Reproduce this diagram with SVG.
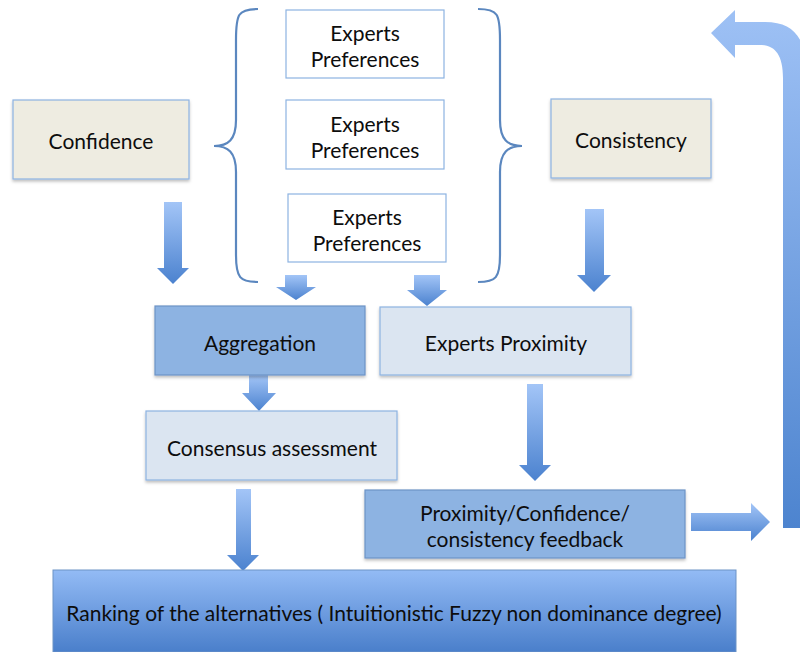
<svg xmlns="http://www.w3.org/2000/svg" width="800" height="652" viewBox="0 0 800 652">
<defs>
<linearGradient id="ag" x1="0" y1="0" x2="0" y2="1"><stop offset="0" stop-color="#a3c5f7"/><stop offset="1" stop-color="#4b82cf"/></linearGradient>
<linearGradient id="rg" x1="0" y1="0" x2="0" y2="1"><stop offset="0" stop-color="#93bbf5"/><stop offset="1" stop-color="#4a7fcb"/></linearGradient>
<linearGradient id="cg" x1="0" y1="0" x2="0" y2="1"><stop offset="0" stop-color="#9ec1f5"/><stop offset="1" stop-color="#4d84cf"/></linearGradient>
<filter id="sh" x="-10%" y="-10%" width="120%" height="130%"><feDropShadow dx="0" dy="2" stdDeviation="1.5" flood-color="#000" flood-opacity="0.25"/></filter>
<style>
text{font-family:"Lato","Open Sans","Liberation Sans",sans-serif;font-size:21px;fill:#0d0d0d;text-anchor:middle}
.beige{fill:#eeece1;stroke:#8db3e2;stroke-width:1.2}
.white{fill:#fff;stroke:#8db3e2;stroke-width:1.2}
.mid{fill:#8db3e2;stroke:#6d93c6;stroke-width:1.2}
.light{fill:#dbe5f1;stroke:#8db3e2;stroke-width:1.2}
.brace{fill:none;stroke:#5b87bf;stroke-width:2.2}
.arr{fill:url(#ag)}
</style>
</defs>
<g id="connectors">
<path class="brace" d="M258,9 C238,9 236,14 236,40 L236,120 C236,140 228,146 214,146 C228,146 236,152 236,172 L236,255 C236,278 240,282 258,282"/>
<path class="brace" d="M478,9 C498,9 500,14 500,40 L500,120 C500,140 508,146 522,146 C508,146 500,152 500,172 L500,255 C500,278 496,282 478,282"/>
<path class="arr" d="M164,202 H182 V268 H189 L173,284 L157,268 H164 Z"/>
<path class="arr" d="M285,275 H307 V287 H316 L296,300 L276,287 H285 Z"/>
<path class="arr" d="M414,275 H440 V290 H447 L427,306 L407,290 H414 Z"/>
<path class="arr" d="M585,209 H604 V275 H611 L594,292 L577,275 H585 Z"/>
<path class="arr" d="M249,375 H268 V393 H276 L259,411 L242,393 H249 Z"/>
<path class="arr" d="M236,489 H251 V555 H259 L243,571 L227,555 H236 Z"/>
<path class="arr" d="M527,384 H543 V465 H551 L535,481 L519,465 H527 Z"/>
<path class="arr" d="M691,513 H751 V503 L770,522 L751,541 V531 H691 Z"/>
<path fill="url(#cg)" d="M783,528 V78 C783,55 775,45 760,45 H735 V58 L711,33 L735,10 V22 H765 C795,22 806,40 806,70 V528 Z"/>
</g>
<g id="prefs1"><rect class="white" x="286" y="10" width="158" height="68"/><text x="365" y="41">Experts</text><text x="365" y="67">Preferences</text></g>
<g id="prefs2"><rect class="white" x="286" y="100" width="158" height="69"/><text x="365" y="132">Experts</text><text x="365" y="158">Preferences</text></g>
<g id="prefs3"><rect class="white" x="288" y="194" width="158" height="68"/><text x="367" y="225">Experts</text><text x="367" y="251">Preferences</text></g>
<g id="confidence"><rect class="beige" x="13" y="100" width="176" height="79" filter="url(#sh)"/><text x="101" y="149">Confidence</text></g>
<g id="consistency"><rect class="beige" x="551" y="99" width="160" height="79" filter="url(#sh)"/><text x="631" y="148">Consistency</text></g>
<g id="aggregation"><rect class="mid" x="155" y="306" width="210" height="69" filter="url(#sh)"/><text x="260" y="351">Aggregation</text></g>
<g id="proximity"><rect class="light" x="380" y="307" width="251" height="68" filter="url(#sh)"/><text x="506" y="351">Experts Proximity</text></g>
<g id="consensus"><rect class="light" x="146" y="411" width="251" height="69" filter="url(#sh)"/><text x="272" y="456">Consensus assessment</text></g>
<g id="feedback"><rect class="mid" x="365" y="490" width="320" height="68" filter="url(#sh)"/><text x="525" y="521">Proximity/Confidence/</text><text x="525" y="547">consistency feedback</text></g>
<g id="ranking"><rect x="53" y="570" width="683" height="82" fill="url(#rg)" stroke="#6d93c6" stroke-width="1"/><text x="394" y="621">Ranking of the alternatives ( Intuitionistic Fuzzy non dominance degree)</text></g>
</svg>
